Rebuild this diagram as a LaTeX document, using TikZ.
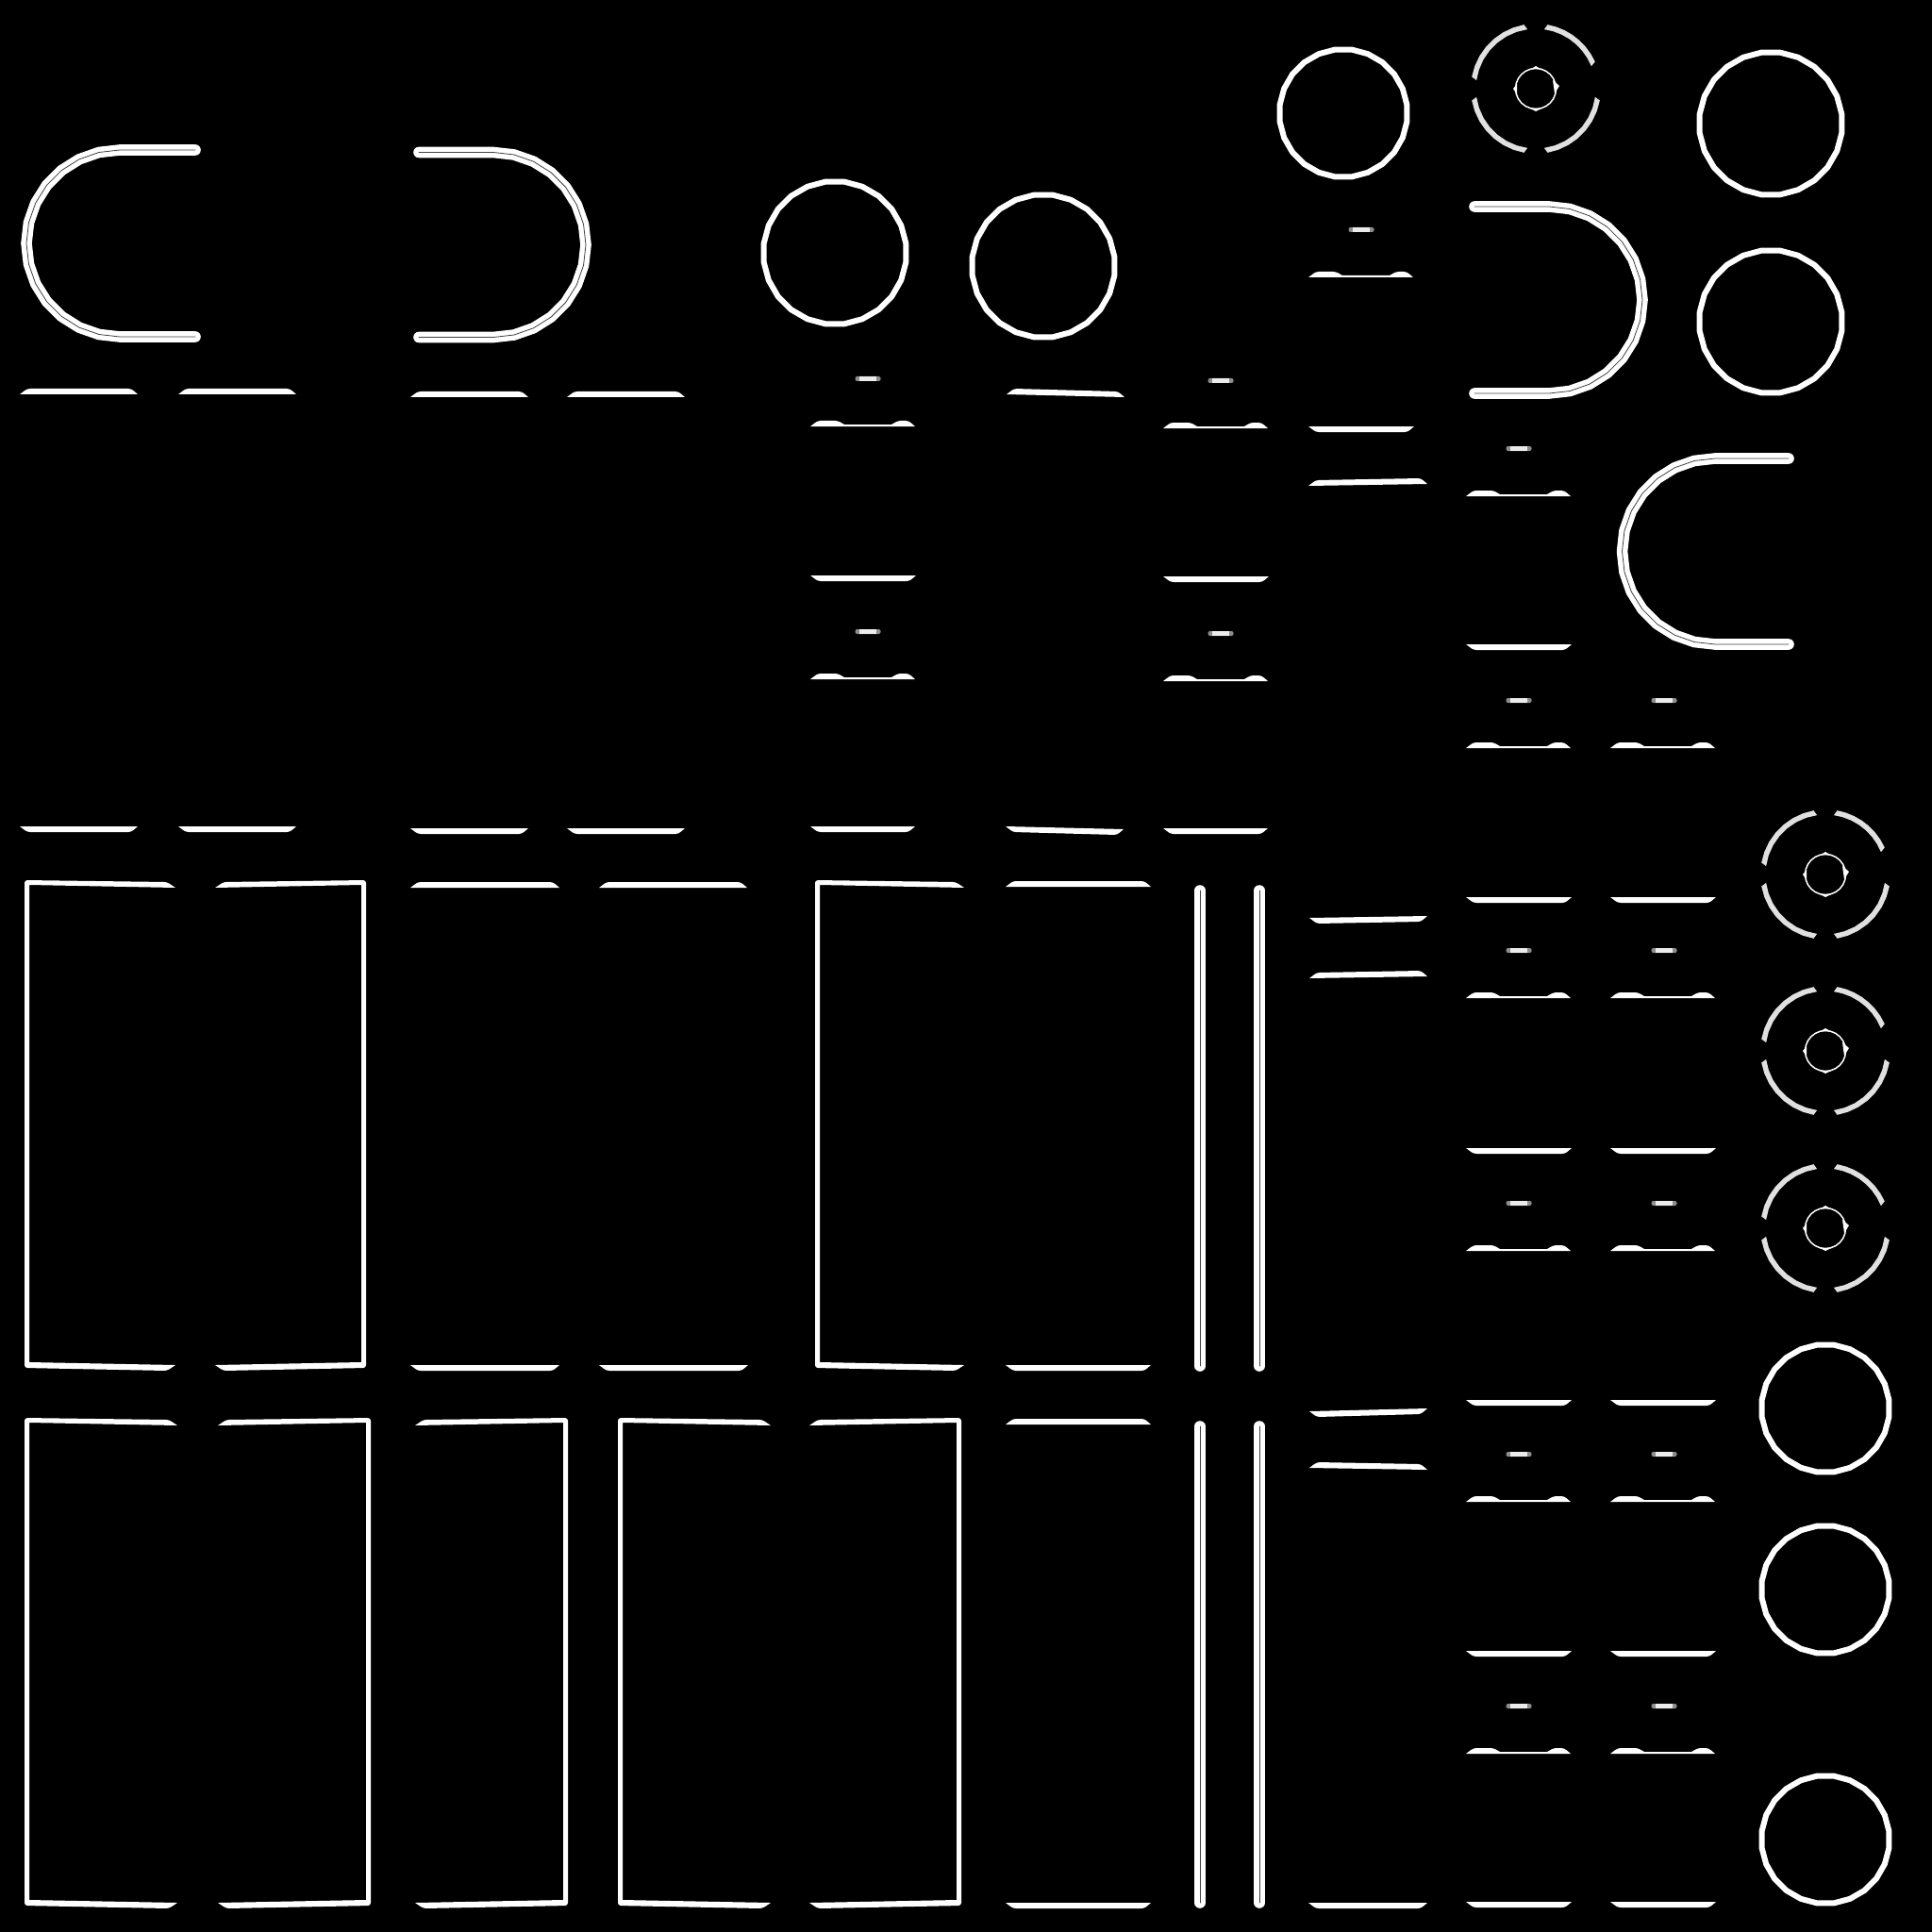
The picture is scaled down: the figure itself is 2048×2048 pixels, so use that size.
\documentclass[tikz,border=0pt]{standalone}

\tikzset{
    ringline/.style={draw=white,line width=.6mm,line join=round},
    tubeline/.style={draw=white,line width=.54mm,double=black!75,double distance=.08mm,
        line cap=round,line join=round},
    coreline/.style={draw=white,line width=.15mm},
    flatbar/.style={fill=white},
    ringcut/.style={fill=white!88!black},
    blobedge/.style={fill=white!55!black,rounded corners=.2mm},
    blob/.style={fill=white!92!black}
}

% closed many sided ring: x, y, radius
\newcommand{\polyring}[3]{
    \draw[ringline] plot[variable=\t,samples=25,domain=7.5:367.5]
        ({#1+#3*cos(\t)},{#2+#3*sin(\t)}) -- cycle;
}
% one piece of a broken ring: x, y, from angle, to angle
\newcommand{\ringpiece}[4]{
    \fill[ringcut] plot[variable=\t,samples=8,domain=#3+2.5:#4-2.5]
            ({#1+69*cos(\t)},{#2+69*sin(\t)})
        -- plot[variable=\t,samples=8,domain=#4:#3]
            ({#1+63.5*cos(\t)},{#2+63.5*sin(\t)}) -- cycle;
}
% broken ring with its small inner ring
\newcommand{\brokenring}[2]{
    \ringpiece{#1}{#2}{188}{262}
    \ringpiece{#1}{#2}{278}{338}
    \ringpiece{#1}{#2}{368}{442}
    \ringpiece{#1}{#2}{98}{172}
    \draw[coreline] plot[variable=\t,samples=25,domain=0:360]
        ({#1+21.5*cos(\t)},{#2+21.5*sin(\t)}) -- cycle;
    \fill[white] (#1+18,#2-9) -- (#1+25,#2-3) -- (#1+20,#2+5) -- cycle;
    \fill[white] (#1-20,#2-5) -- (#1-24,#2) -- (#1-20,#2+6) -- cycle;
    \fill[white] (#1-5,#2-21) -- (#1,#2-24) -- (#1+5,#2-21) -- cycle;
    \fill[white] (#1-6,#2+21) -- (#1,#2+24) -- (#1+6,#2+21) -- cycle;
}
% bar with flat bottom: left x, right x, left y, right y
\newcommand{\lowbar}[4]{
    \fill[flatbar] (#1,#3) [rounded corners=.3mm] -- (#1+8,#3-6) -- (#2-7,#4-6)
        [sharp corners] -- (#2,#4) -- cycle;
}
% bar with flat top: left x, right x, left y, right y
\newcommand{\highbar}[4]{
    \fill[flatbar] (#1,#3) [rounded corners=.3mm] -- (#1+8,#3+6) -- (#2-7,#4+6)
        [sharp corners] -- (#2,#4) -- cycle;
}
% side of a box with its two wedges: outer x, tip x, direction, top y, bottom y
\newcommand{\boxside}[5]{
    \fill[white] (#2,#4+8) [rounded corners=.3mm] -- (#2-9*#3,#4+2) -- (#1,#4)
        -- (#1,#5) -- (#2-9*#3,#5+3) [sharp corners] -- (#2,#5-3)
        -- (#1+5*#3,#5-6) -- (#1+5*#3,#4+5) -- cycle;
}

\begin{document}
\begin{tikzpicture}[x=.1mm,y=-.1mm]
    \fill[black] (0,0) rectangle (2048,2048);

    % full rings
    \foreach \cx/\cy/\rad in {1424/120/68,1877/131/76,1877/341/76,885/268/76,
            1106/282/76,1935/1493/68,1935/1685/68,1935/1950/68}{
        \polyring{\cx}{\cy}{\rad}
    }

    % broken rings
    \foreach \cx/\cy in {1628/94,1935/927,1935/1114,1935/1302}{
        \brokenring{\cx}{\cy}
    }

    % bent tubes
    \draw[tubeline] (207,159) -- plot[variable=\t,samples=15,domain=-90:-270]
        ({127+99*cos(\t)},{258+99*sin(\t)}) -- (207,357);
    \draw[tubeline] (444,161.5) -- plot[variable=\t,samples=15,domain=-90:90]
        ({523+98*cos(\t)},{259.5+98*sin(\t)}) -- (444,357.5);
    \draw[tubeline] (1563,219) -- plot[variable=\t,samples=15,domain=-90:90]
        ({1642+99*cos(\t)},{318+99*sin(\t)}) -- (1563,417);
    \draw[tubeline] (1896,486) -- plot[variable=\t,samples=15,domain=-90:-270]
        ({1818+98.5*cos(\t)},{584.5+98.5*sin(\t)}) -- (1896,683);

    % straight tubes
    \foreach \tx in {1272,1335}{
        \draw[tubeline] (\tx,944) -- (\tx,1448);
        \draw[tubeline] (\tx,1512) -- (\tx,2017);
    }

    % boxes
    \boxside{26}{186}{1}{933}{1450}
    \boxside{388}{228}{-1}{933}{1450}
    \boxside{864}{1022}{1}{933}{1450}
    \boxside{26}{188}{1}{1503}{2020}
    \boxside{393}{231}{-1}{1503}{2020}
    \boxside{602}{440}{-1}{1503}{2020}
    \boxside{655}{817}{1}{1503}{2020}
    \boxside{1019}{858}{-1}{1503}{2020}

    % notched bars with their small marks
    \foreach \bx/\by/\mx in {859/452/920,1233/454/1294,1387/294/1443,1554/526/1610,
            859/720/920,1233/722/1294,1554/793/1610,1707/793/1764,1554/1058/1610,
            1707/1058/1764,1554/1326/1610,1707/1326/1764,1554/1592/1610,1707/1592/1764,
            1554/1859/1610,1707/1859/1764}{
        \fill[flatbar] (\bx,\by) [rounded corners=.3mm] -- (\bx+8,\by-6) -- (\bx+29,\by-6)
            [sharp corners] -- (\bx+36,\by-2) -- (\bx+86,\by-2)
            [rounded corners=.3mm] -- (\bx+93,\by-6) -- (\bx+104,\by-6)
            [sharp corners] -- (\bx+111,\by) -- cycle;
        \fill[blobedge] (\mx-13.5,\by-53) rectangle (\mx+13.5,\by-48);
        \fill[blob] (\mx-9,\by-53) rectangle (\mx+9,\by-48);
    }

    % flat bars, top row
    \lowbar{21}{146}{418}{418}
    \lowbar{189}{314}{418}{418}
    \lowbar{435}{560}{421}{421}
    \lowbar{601}{726}{421}{421}
    \lowbar{1067}{1192}{418}{421}
    \lowbar{1387}{1513}{515}{513}
    \lowbar{1388}{1513}{1037}{1035}
    \lowbar{1388}{1513}{1556}{1558}
    \lowbar{435}{593}{941}{941}
    \lowbar{635}{792}{941}{941}
    \lowbar{1066}{1220}{940}{940}
    \lowbar{1066}{1220}{1510}{1510}

    \highbar{21}{146}{876}{876}
    \highbar{189}{314}{876}{876}
    \highbar{435}{560}{878}{878}
    \highbar{601}{726}{878}{878}
    \highbar{859}{970}{876}{876}
    \highbar{1066}{1191}{876}{879}
    \highbar{1233}{1344}{878}{878}
    \highbar{435}{593}{1447}{1447}
    \highbar{635}{793}{1447}{1447}
    \highbar{1066}{1220}{1447}{1447}
    \highbar{1066}{1220}{2017}{2017}
    \highbar{1387}{1513}{2017}{2017}
    \highbar{1388}{1513}{973}{971}
    \highbar{1388}{1513}{1496}{1493}

    % narrow flat bars
    \foreach \bx/\by in {859/610,1233/611,1387/452,1554/683,1554/951,1707/951,1554/1217,
            1707/1217,1554/1484,1707/1484,1554/1750,1707/1750,1554/2016,1707/2016}{
        \highbar{\bx}{\bx+112}{\by}{\by}
    }
\end{tikzpicture}
\end{document}
